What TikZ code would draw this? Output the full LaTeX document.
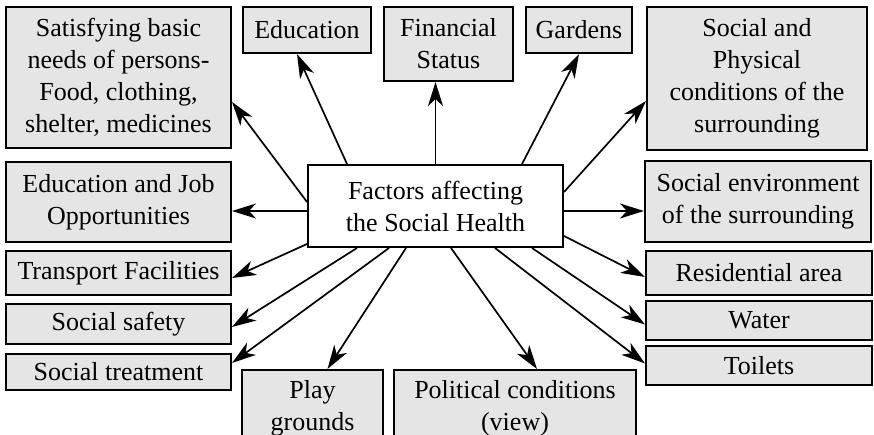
\documentclass[tikz,border=0pt]{standalone}
\usepackage{fontspec}
\setmainfont{Liberation Serif}
\usetikzlibrary{arrows.meta,calc}
\begin{document}
\begin{tikzpicture}[x=1pt,y=-1pt,
  box/.style={draw,line width=2pt,fill=gray!20,inner sep=0pt,align=center,
    font=\fontsize{26}{32}\selectfont},
  cbox/.style={box,fill=white},
  arr/.style={line width=1.7pt,-{Stealth[length=24pt,width=15pt,inset=7pt]}}]
\useasboundingbox (0,0) rectangle (874,435);
\clip (0,0) rectangle (874,435);
% boxes: centre, size
\node[box,minimum width=225pt,minimum height=141pt] (sat) at (118.5,77.5) {Satisfying basic\\needs of persons-\\Food, clothing,\\shelter, medicines};
\node[box,minimum width=128pt,minimum height=46pt] (edu) at (307,30) {Education};
\node[box,minimum width=129pt,minimum height=74pt] (fin) at (448.5,44) {Financial\\Status};
\node[box,minimum width=106pt,minimum height=46pt] (gar) at (579,30) {Gardens};
\node[box,minimum width=220pt,minimum height=143pt] (phy) at (757,78.5) {Social and\\Physical\\conditions of the\\surrounding};
\node[box,minimum width=225pt,minimum height=80pt] (job) at (118.5,202) {Education and Job\\Opportunities};
\node[cbox,minimum width=255pt,minimum height=82pt] (c) at (435.5,206) {Factors affecting\\the Social Health};
\node[box,minimum width=226pt,minimum height=81pt] (env) at (758,201.5) {Social environment\\of the surrounding};
\node[box,minimum width=225pt,minimum height=44pt] (tra) at (118.5,273) {Transport Facilities};
\node[box,minimum width=225pt,minimum height=40pt] (saf) at (118.5,324) {Social safety};
\node[box,minimum width=225pt,minimum height=36pt] (trt) at (118.5,372) {Social treatment};
\node[box,minimum width=141pt,minimum height=76pt] (pla) at (312.5,408) {Play\\grounds};
\node[box,minimum width=242pt,minimum height=76pt] (pol) at (515,408) {Political conditions\\(view)};
\node[box,minimum width=226pt,minimum height=44pt] (res) at (759,273) {Residential area};
\node[box,minimum width=226pt,minimum height=39pt] (wat) at (759,320.5) {Water};
\node[box,minimum width=226pt,minimum height=39pt] (toi) at (759,365.5) {Toilets};
% arrows
\draw[arr] ($(c.north west)+(0,38)$) -- ($(sat.east)+(0,24.5)$);
\draw[arr] ($(c.north west)+(40,0)$) -- ($(edu.south)+(-10,0)$);
\draw[arr] (c.north) -- (c.north |- fin.south);
\draw[arr] ($(c.west)+(0,5)$) -- ($(job.east)+(0,9)$);
\draw[arr] ($(c.north west)+(215,0)$) -- (gar.south);
\draw[arr] ($(c.north east)+(0,28)$) -- ($(phy.south west)+(0,-50)$);
\draw[arr] ($(c.east)+(0,5)$) -- ($(env.west)+(0,9.5)$);
\draw[arr] ($(c.south west)+(0,-4)$) -- ($(tra.east)+(0,5)$);
\draw[arr] ($(c.south west)+(50,0)$) -- ($(saf.east)+(0,3)$);
\draw[arr] ($(c.south west)+(82,0)$) -- ($(trt.east)+(0,-9)$);
\draw[arr] ($(c.south west)+(99,0)$) -- ($(pla.north)+(15,0)$);
\draw[arr] ($(c.south west)+(144,0)$) -- ($(pol.north)+(22,0)$);
\draw[arr] ($(c.south east)+(0,-12)$) -- ($(res.west)+(0,4)$);
\draw[arr] ($(c.south east)+(-32,0)$) -- ($(wat.west)+(0,4)$);
\draw[arr] ($(c.south east)+(-69,0)$) -- ($(toi.west)+(0,-2)$);
\end{tikzpicture}
\end{document}
